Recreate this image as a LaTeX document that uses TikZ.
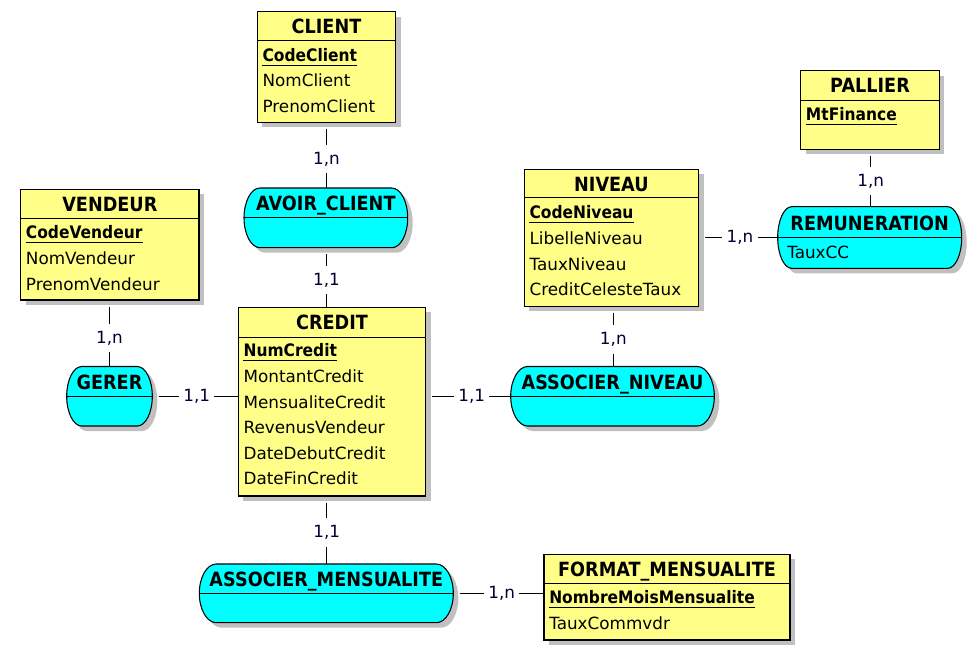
\documentclass[tikz,border=0pt]{standalone}
\usepackage{fontspec}
\setmainfont{DejaVu Sans}[BoldFeatures={FakeStretch=0.9}]
\usetikzlibrary{shadows,fit}
\definecolor{entyellow}{HTML}{FFFF88}
\definecolor{relcyan}{HTML}{00FFFF}
\definecolor{shadowgray}{HTML}{C0C0C0}
\definecolor{cardcol}{HTML}{000033}
\tikzset{
  boxshadow/.style={general shadow={fill=shadowgray, shadow xshift=3.75pt, shadow yshift=-3.75pt}},
  ent/.style={draw=black, line width=0.8pt, fill=entyellow, inner sep=0pt, boxshadow},
  relframe/.style={draw=none, inner sep=0pt},
  relfill/.style={draw=black, line width=0.8pt, fill=relcyan, boxshadow},
  divider/.style={draw=black, line width=0.8pt},
  etitle/.style={font=\fontsize{14.7pt}{16pt}\selectfont\bfseries, anchor=base, inner sep=0pt},
  keyattr/.style={font=\fontsize{12.9pt}{15pt}\selectfont\bfseries, anchor=base west, inner sep=0pt},
  attr/.style={font=\fontsize{12.6pt}{15pt}\selectfont, anchor=base west, inner sep=0pt},
  card/.style={font=\fontsize{12.6pt}{15pt}\selectfont, text=cardcol, inner xsep=3pt, inner ysep=0pt, minimum height=21pt},
  conn/.style={draw=black, line width=0.8pt},
  fromshadow/.style={shorten <=4.5pt},
  keyline/.style={draw=black, line width=0.8pt},
}
% #1 L, #2 T, #3 R, #4 B (px), #5 rx (px), #6 rx (pt), #7 ry (pt)
\newcommand\relpath[7]{%
  \path[relfill] (#1+#5,#2) -- (#3-#5,#2)
    arc[start angle=90, end angle=-90, x radius=#6, y radius=#7]
    -- (#1+#5,#4)
    arc[start angle=270, end angle=90, x radius=#6, y radius=#7] -- cycle;}
\begin{document}
\begin{tikzpicture}[x=0.75pt, y=-0.75pt]
\useasboundingbox (0,0) rectangle (980,654);

% ---------- CLIENT ----------
\node[ent, fit={(257.3,11.7) (395.7,122.3)}] (client) {};
\draw[divider] (257.3,40.7) -- (395.7,40.7);
\node[etitle] (client-t) at (326.5,33.9) {CLIENT};
\node[keyattr] (client-k) at (262.3,61.2) {CodeClient};
\draw[keyline] ([yshift=-3pt]client-k.base west) -- ([yshift=-3pt]client-k.base east);
\node[attr] (client-a1) at (262.3,86.8) {NomClient};
\node[attr] (client-a2) at (262.3,112.4) {PrenomClient};

% ---------- VENDEUR ----------
\node[ent, fit={(20.7,189.3) (199,300)}] (vendeur) {};
\draw[divider] (20.7,218.3) -- (199,218.3);
\node[etitle] (vendeur-t) at (109.85,211.5) {VENDEUR};
\node[keyattr] (vendeur-k) at (25.7,238.8) {CodeVendeur};
\draw[keyline] ([yshift=-3pt]vendeur-k.base west) -- ([yshift=-3pt]vendeur-k.base east);
\node[attr] (vendeur-a1) at (25.7,264.4) {NomVendeur};
\node[attr] (vendeur-a2) at (25.7,290.0) {PrenomVendeur};

% ---------- PALLIER ----------
\node[ent, fit={(800.7,70.7) (939.3,149.3)}] (pallier) {};
\draw[divider] (800.7,100.7) -- (939.3,100.7);
\node[etitle] (pallier-t) at (870,92.9) {PALLIER};
\node[keyattr] (pallier-k) at (805.7,120.2) {MtFinance};
\draw[keyline] ([yshift=-3pt]pallier-k.base west) -- ([yshift=-3pt]pallier-k.base east);

% ---------- NIVEAU ----------
\node[ent, fit={(524.3,169.3) (698.5,306.3)}] (niveau) {};
\draw[divider] (524.3,197.7) -- (698.5,197.7);
\node[etitle] (niveau-t) at (611.4,191.5) {NIVEAU};
\node[keyattr] (niveau-k) at (529.3,218.8) {CodeNiveau};
\draw[keyline] ([yshift=-3pt]niveau-k.base west) -- ([yshift=-3pt]niveau-k.base east);
\node[attr] (niveau-a1) at (529.3,244.4) {LibelleNiveau};
\node[attr] (niveau-a2) at (529.3,270.0) {TauxNiveau};
\node[attr] (niveau-a3) at (529.3,295.6) {CreditCelesteTaux};

% ---------- CREDIT ----------
\node[ent, fit={(238.3,307.3) (425.7,496)}] (credit) {};
\draw[divider] (238.3,337.3) -- (425.7,337.3);
\node[etitle] (credit-t) at (332,329.5) {CREDIT};
\node[keyattr] (credit-k) at (243.3,356.8) {NumCredit};
\draw[keyline] ([yshift=-3pt]credit-k.base west) -- ([yshift=-3pt]credit-k.base east);
\node[attr] (credit-a1) at (243.3,382.4) {MontantCredit};
\node[attr] (credit-a2) at (243.3,408.0) {MensualiteCredit};
\node[attr] (credit-a3) at (243.3,433.6) {RevenusVendeur};
\node[attr] (credit-a4) at (243.3,459.2) {DateDebutCredit};
\node[attr] (credit-a5) at (243.3,484.8) {DateFinCredit};

% ---------- FORMAT_MENSUALITE ----------
\node[ent, fit={(544,554.3) (790,640)}] (format) {};
\draw[divider] (544,583.3) -- (790,583.3);
\node[etitle] (format-t) at (667,576.5) {FORMAT\_MENSUALITE};
\node[keyattr] (format-k) at (549,603.8) {NombreMoisMensualite};
\draw[keyline] ([yshift=-3pt]format-k.base west) -- ([yshift=-3pt]format-k.base east);
\node[attr] (format-a1) at (549,629.4) {TauxCommvdr};

% ---------- AVOIR_CLIENT ----------
\relpath{244}{188}{407.7}{247.7}{16}{12pt}{22.39pt}
\node[relframe, fit={(244,188) (407.7,247.7)}] (avoir) {};
\draw[divider] (avoir.west) -- (avoir.east);
\node[etitle] (avoir-t) at (325.85,210.9) {AVOIR\_CLIENT};

% ---------- GERER ----------
\relpath{66.7}{366.5}{152.3}{426}{15}{11.25pt}{22.31pt}
\node[relframe, fit={(66.7,366.5) (152.3,426)}] (gerer) {};
\draw[divider] (gerer.west) -- (gerer.east);
\node[etitle] (gerer-t) at (109.5,389.3) {GERER};

% ---------- ASSOCIER_NIVEAU ----------
\relpath{510.7}{366.5}{714.3}{426}{17}{12.75pt}{22.31pt}
\node[relframe, fit={(510.7,366.5) (714.3,426)}] (assocniv) {};
\draw[divider] (assocniv.west) -- (assocniv.east);
\node[etitle] (assocniv-t) at (612.5,389.3) {ASSOCIER\_NIVEAU};

% ---------- REMUNERATION ----------
\relpath{777.7}{206.7}{961.7}{268.3}{14}{10.5pt}{23.1pt}
\node[relframe, fit={(777.7,206.7) (961.7,268.3)}] (remun) {};
\draw[divider] (remun.west) -- (remun.east);
\node[etitle] (remun-t) at (869.7,230.5) {REMUNERATION};
\node[attr] (remun-a1) at (787,258.3) {TauxCC};

% ---------- ASSOCIER_MENSUALITE ----------
\relpath{199.3}{564}{453.3}{622.7}{17}{12.75pt}{22.01pt}
\node[relframe, fit={(199.3,564) (453.3,622.7)}] (assocmens) {};
\draw[divider] (assocmens.west) -- (assocmens.east);
\node[etitle] (assocmens-t) at (326.3,586.4) {ASSOCIER\_MENSUALITE};

% ---------- cardinalities and connectors ----------
\node[card] (c1) at (326.5,159) {1,n};
\draw[conn, fromshadow] (client.south -| c1) -- (c1);
\draw[conn] (c1) -- (c1 |- avoir.north);

\node[card] (c2) at (326.5,280) {1,1};
\draw[conn, fromshadow] (avoir.south -| c2) -- (c2);
\draw[conn] (c2) -- (c2 |- credit.north);

\node[card] (c3) at (109.5,338) {1,n};
\draw[conn, fromshadow] (vendeur.south -| c3) -- (c3);
\draw[conn] (c3) -- (c3 |- gerer.north);

\node[card] (c4) at (196.7,396.25) {1,1};
\draw[conn, fromshadow] (gerer.east |- c4) -- (c4);
\draw[conn] (c4) -- (credit.west |- c4);

\node[card] (c5) at (471.7,396.25) {1,1};
\draw[conn, fromshadow] (credit.east |- c5) -- (c5);
\draw[conn] (c5) -- (assocniv.west |- c5);

\node[card] (c6) at (613.3,339.3) {1,n};
\draw[conn, fromshadow] (niveau.south -| c6) -- (c6);
\draw[conn] (c6) -- (c6 |- assocniv.north);

\node[card] (c7) at (740,237.5) {1,n};
\draw[conn, fromshadow] (niveau.east |- c7) -- (c7);
\draw[conn] (c7) -- (remun.west |- c7);

\node[card] (c8) at (870.7,181) {1,n};
\draw[conn, fromshadow] (pallier.south -| c8) -- (c8);
\draw[conn] (c8) -- (c8 |- remun.north);

\node[card] (c9) at (326.7,532.7) {1,1};
\draw[conn, fromshadow] (credit.south -| c9) -- (c9);
\draw[conn] (c9) -- (c9 |- assocmens.north);

\node[card] (c10) at (501.7,593.35) {1,n};
\draw[conn, fromshadow] (assocmens.east |- c10) -- (c10);
\draw[conn] (c10) -- (format.west |- c10);
\end{tikzpicture}
\end{document}
